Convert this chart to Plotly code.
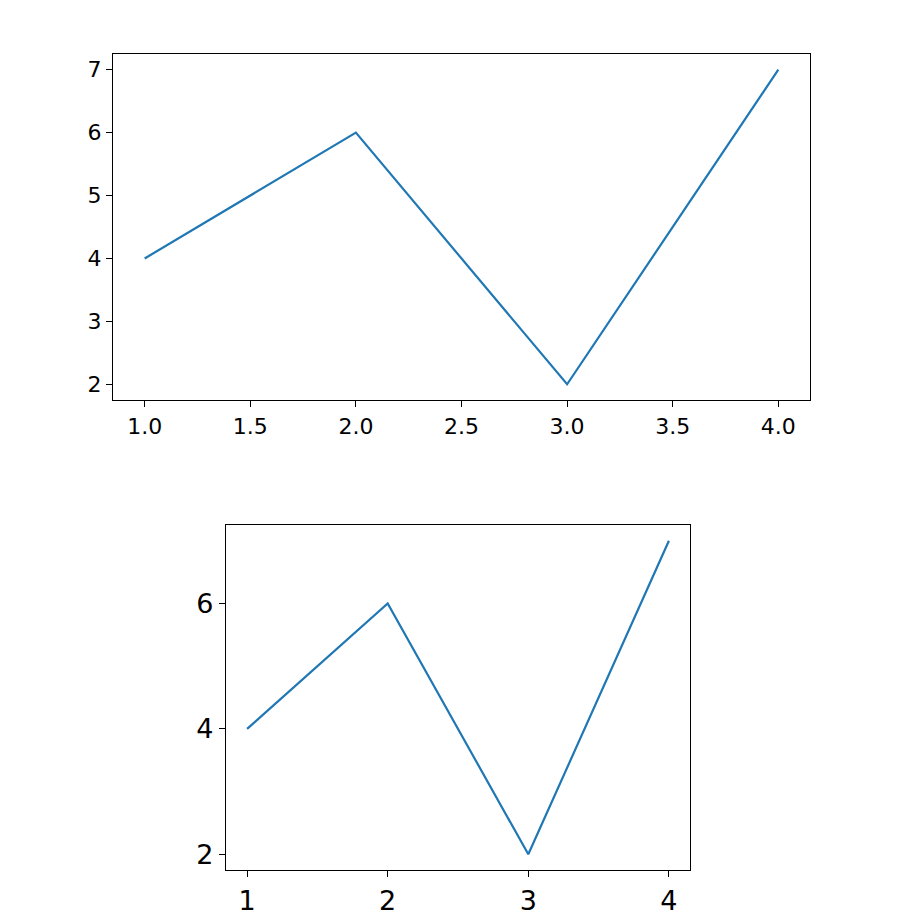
import plotly.graph_objects as go

# data shared by both panels
x_vals = [1, 2, 3, 4]
y_vals = [4, 6, 2, 7]

line_color = '#1f77b4'

fig = go.Figure()

# top panel
fig.add_trace(go.Scatter(x=x_vals, y=y_vals, mode='lines',
                         line=dict(color=line_color, width=2.2),
                         xaxis='x', yaxis='y', showlegend=False))
# bottom panel
fig.add_trace(go.Scatter(x=x_vals, y=y_vals, mode='lines',
                         line=dict(color=line_color, width=2.2),
                         xaxis='x2', yaxis='y2', showlegend=False))

axis_style = dict(showline=True, mirror=True, linecolor='black', linewidth=1.2,
                  ticks='outside', ticklen=6, tickcolor='black', tickwidth=1.2,
                  showgrid=False, zeroline=False)

# page has an 8px body margin, so positions are shifted by 8px
fig.update_layout(
    width=900, height=920,
    margin=dict(l=0, r=0, t=0, b=0),
    paper_bgcolor='white', plot_bgcolor='white',
    font=dict(family='DejaVu Sans', color='black'),
    xaxis=dict(domain=[105/900, 802/900], anchor='y', range=[0.85, 4.15],
               tickvals=[1.0, 1.5, 2.0, 2.5, 3.0, 3.5, 4.0], tickformat='.1f',
               tickfont=dict(size=22), **axis_style),
    yaxis=dict(domain=[1 - 392/920, 1 - 46/920], anchor='x', range=[1.75, 7.25],
               tickvals=[2, 3, 4, 5, 6, 7], tickfont=dict(size=22), **axis_style),
    xaxis2=dict(domain=[218/900, 682/900], anchor='y2', range=[0.85, 4.15],
                tickvals=[1, 2, 3, 4], tickfont=dict(size=27), **axis_style),
    yaxis2=dict(domain=[1 - 862/920, 1 - 517/920], anchor='x2', range=[1.75, 7.25],
                tickvals=[2, 4, 6], tickfont=dict(size=27), **axis_style),
)

fig.write_html("out.html")
